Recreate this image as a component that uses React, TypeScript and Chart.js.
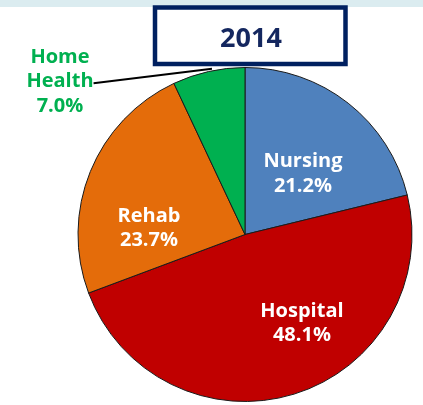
import React, { useEffect, useRef } from "react";
import { Chart, registerables } from "chart.js";

Chart.register(...registerables);

const TITLE = "2014";
const categories = ["Nursing", "Hospital", "Rehab", "Home Health"];
const values = [21.2, 48.1, 23.7, 7.0];
const colors = ["#4F81BD", "#C00000", "#E46C0A", "#00B050"];
const labelColors = ["#FFFFFF", "#FFFFFF", "#FFFFFF", "#00B050"];

// label anchor offsets relative to the pie centre, as fractions of the radius
const labelOffsets = [
  [0.347, -0.404],
  [0.341, 0.494],
  [-0.575, -0.075],
  [-1.108, -1.027],
];

const FONT = "'Open Sans', Lato, sans-serif";

const overlayPlugin = {
  id: "overlay",
  beforeDraw(chart: any) {
    const ctx = chart.ctx;
    ctx.save();
    ctx.fillStyle = "#DBECF0";
    ctx.fillRect(0, 0, chart.width, 7);
    ctx.restore();
  },
  afterDraw(chart: any) {
    const ctx = chart.ctx;
    const meta = chart.getDatasetMeta(0);
    const arc0 = meta.data[0];
    const cx = arc0.x;
    const cy = arc0.y;
    const r = arc0.outerRadius;

    // leader line for Home Health
    const hh = meta.data[3];
    const mid = hh.startAngle + (hh.endAngle - hh.startAngle) * 0.55;
    const ex = cx + Math.cos(mid) * (r + 1);
    const ey = cy + Math.sin(mid) * (r + 1);
    ctx.save();
    ctx.strokeStyle = "#000000";
    ctx.lineWidth = 2;
    ctx.beginPath();
    ctx.moveTo(cx - r * 0.907, cy - r * 0.905);
    ctx.lineTo(ex, ey - 1);
    ctx.stroke();
    ctx.restore();

    // slice labels
    ctx.save();
    ctx.font = `bold 20px ${FONT}`;
    ctx.textAlign = "center";
    ctx.textBaseline = "alphabetic";
    categories.forEach((cat, i) => {
      const lx = cx + labelOffsets[i][0] * r;
      const ly = cy + labelOffsets[i][1] * r;
      const lines =
        cat === "Home Health"
          ? ["Home", "Health", values[i].toFixed(1) + "%"]
          : [cat, values[i].toFixed(1) + "%"];
      ctx.fillStyle = labelColors[i];
      lines.forEach((t, j) => ctx.fillText(t, lx, ly + j * 24.5));
    });
    ctx.restore();

    // title box
    ctx.save();
    ctx.fillStyle = "#FFFFFF";
    ctx.fillRect(155, 7, 191, 57);
    ctx.strokeStyle = "#002060";
    ctx.lineWidth = 4.5;
    ctx.strokeRect(155, 7.5, 190.5, 56.5);
    ctx.fillStyle = "#14275F";
    ctx.font = `bold 27px ${FONT}`;
    ctx.textAlign = "center";
    ctx.textBaseline = "alphabetic";
    ctx.fillText(TITLE, 251, 47);
    ctx.restore();
  },
};

export default function App() {
  const ref = useRef<HTMLCanvasElement | null>(null);
  useEffect(() => {
    if (!ref.current) return;
    const chart = new Chart(ref.current, {
      type: "pie",
      data: {
        labels: categories,
        datasets: [
          {
            data: values,
            backgroundColor: colors,
            borderColor: "#1a1a1a",
            borderWidth: 1,
          },
        ],
      },
      options: {
        animation: false,
        responsive: false,
        layout: { padding: { top: 67, bottom: 3, left: 77.5, right: 10.5 } },
        plugins: {
          legend: { display: false },
          tooltip: { enabled: false },
          title: { display: false },
        },
      },
      plugins: [overlayPlugin],
    });
    return () => chart.destroy();
  }, []);
  return (
    <div style={{ position: "fixed", left: 0, top: 0, width: 423, height: 405, background: "#fff" }}>
      <canvas ref={ref} width={423} height={405} style={{ width: 423, height: 405 }} />
    </div>
  );
}
